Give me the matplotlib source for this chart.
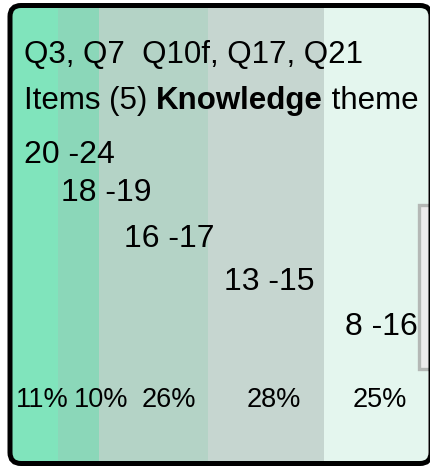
import matplotlib
matplotlib.use('Agg')
import matplotlib.pyplot as plt
from matplotlib.patches import FancyBboxPatch, Rectangle

# data
score_ranges = ['20 -24', '18 -19', '16 -17', '13 -15', '8 -16']
shares = [11, 10, 26, 28, 25]
title_line1 = 'Q3, Q7  Q10f, Q17, Q21'
title_line2 = ['Items (5) ', 'Knowledge', ' theme']

band_colors = ['#80e4bc', '#8bd7b9', '#b4d3c6', '#c6d6d0', '#e4f6ee']

W, H = 430, 467
plt.rcParams['font.family'] = ['Liberation Sans', 'DejaVu Sans']
fig = plt.figure(figsize=(W / 100, H / 100), dpi=100)

# overlay axes in pixel coordinates for text and frame
ax = fig.add_axes([0, 0, 1, 1])
ax.set_xlim(0, W)
ax.set_ylim(H, 0)
ax.axis('off')

frame = FancyBboxPatch((10, 5.5), 421, 458, boxstyle='round,pad=0,rounding_size=11',
                       facecolor='none', edgecolor='black', linewidth=3.6, zorder=5)
ax.add_patch(frame)

# stacked bar filling the frame
bx = fig.add_axes([12 / W, 1 - 462 / H, 416 / W, 455 / H])
bx.set_xlim(0, 100)
bx.set_ylim(-0.5, 0.5)
bx.axis('off')
bx.set_zorder(0)
ax.set_zorder(1)
left = 0
for s, c in zip(shares, band_colors):
    b = bx.barh(0, s, left=left, height=1.0, color=c, linewidth=0)
    for p in b:
        p.set_clip_path(frame)
    left += s

# grey box on the right edge
ax.add_patch(Rectangle((419, 205), 25, 164, facecolor='#ececec',
                       edgecolor='#b4b8b5', linewidth=2.4, zorder=3))

fs = 22.5
ax.text(24, 63, title_line1, fontsize=fs, va='baseline', ha='left', zorder=6)

# second title line: normal / bold / normal runs
fig.canvas.draw()
r = fig.canvas.get_renderer()
x = 24
for i, part in enumerate(title_line2):
    t = ax.text(x, 109, part, fontsize=fs, va='baseline', ha='left', zorder=6,
                fontweight='bold' if i == 1 else 'normal')
    e = t.get_window_extent(r)
    x = ax.transData.inverted().transform((e.x1, 0))[0]

range_pos = [(24, 163), (61, 201), (124, 247), (224, 290), (345, 335)]
for lab, (x, y) in zip(score_ranges, range_pos):
    ax.text(x, y, lab, fontsize=23, va='baseline', ha='left', zorder=6)

pct_x = [16, 74, 142, 247, 353]
for s, x in zip(shares, pct_x):
    ax.text(x, 407, f'{s}%', fontsize=19.5, va='baseline', ha='left', zorder=6)

fig.savefig('out.png', dpi=100)
